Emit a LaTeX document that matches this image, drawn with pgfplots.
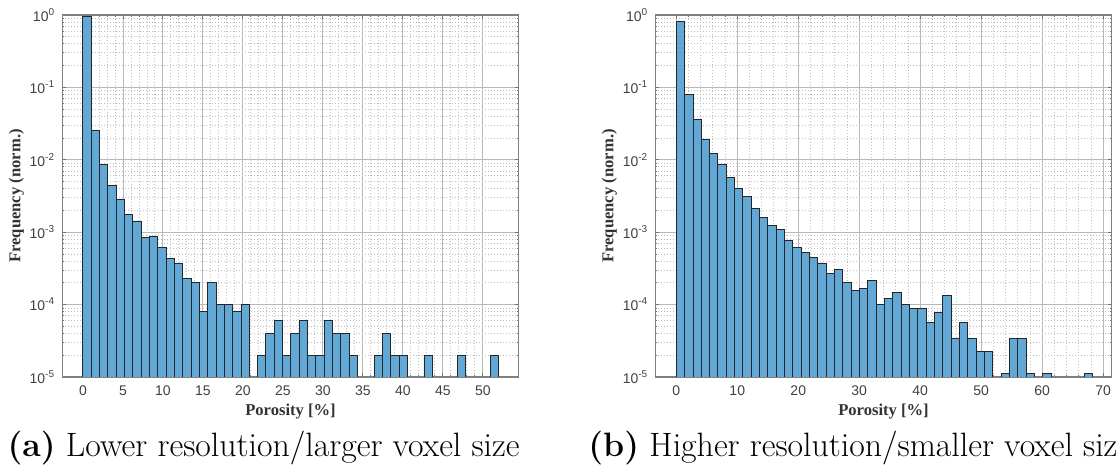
\documentclass[border=0pt]{standalone}
\usepackage{pgfplots}
\pgfplotsset{compat=1.18}
\usepackage{fontspec}
\newfontfamily\lsans{Liberation Sans}
\newfontfamily\lserif{Liberation Serif}

\definecolor{barblue}{RGB}{98,168,214}

\pgfplotsset{
  every axis/.append style={
    scale only axis,
    ymin=1e-5, ymax=1,
    ytick={1e-5,1e-4,1e-3,1e-2,1e-1,1},
    yticklabels={10\textsuperscript{-5},10\textsuperscript{-4},10\textsuperscript{-3},10\textsuperscript{-2},10\textsuperscript{-1},10\textsuperscript{0}},
    minor ytick={2e-5,3e-5,4e-5,5e-5,6e-5,7e-5,8e-5,9e-5,
                 2e-4,3e-4,4e-4,5e-4,6e-4,7e-4,8e-4,9e-4,
                 2e-3,3e-3,4e-3,5e-3,6e-3,7e-3,8e-3,9e-3,
                 2e-2,3e-2,4e-2,5e-2,6e-2,7e-2,8e-2,9e-2,
                 0.2,0.3,0.4,0.5,0.6,0.7,0.8,0.9},
    minor x tick num=4,
    grid=both,
    major grid style={black!28, line width=0.4pt},
    minor grid style={black!25, line width=0.4pt, dash pattern=on 0.4pt off 1.1pt},
    axis line style={black!50, line width=0.6pt},
    tick style={black!55, line width=0.4pt},
    major tick length=2pt,
    minor tick length=1pt,
    tick align=inside,
    ticklabel style={font=\lsans\fontsize{7}{8}\selectfont, text=black!75},
    /pgf/number format/assume math mode=true,
    xticklabel style={yshift=-1pt},
    xlabel style={font=\lserif\bfseries\fontsize{8.3}{9}\selectfont, text=black!80, yshift=3pt},
    ylabel style={font=\lserif\bfseries\fontsize{8.3}{9}\selectfont, text=black!80, yshift=-4pt},
    xlabel={Porosity [\%]},
    ylabel={Frequency (norm.)},
  },
}

\begin{document}
\begin{tikzpicture}
\path[use as bounding box] (0,0) rectangle (558.5pt,237.5pt);

% (a) lower resolution
\begin{axis}[
  ymode=log, log origin=infty,
  at={(31.1pt,49pt)}, anchor=south west,
  width=228.3pt, height=181pt,
  xmin=-2.59, xmax=54.5,
  xtick={0,5,...,50},
]
\addplot[ybar, bar width=1.04, bar shift=0pt, fill=barblue, draw=black!85, line width=0.45pt] coordinates {
(0.52,0.952) (1.56,0.0252) (2.60,0.0087) (3.64,0.0044) (4.68,0.0028)
(5.72,0.00175) (6.76,0.00143) (7.80,0.00085) (8.84,0.00086) (9.88,0.00062)
(10.92,0.00043) (11.96,0.00037) (13.00,0.00023) (14.04,0.0002) (15.08,8e-5)
(16.12,2e-4) (17.16,1e-4) (18.20,1e-4) (19.24,8e-5) (20.28,1e-4)
(22.36,2e-5) (23.40,4e-5) (24.44,6e-5) (25.48,2e-5) (26.52,4e-5)
(27.56,6e-5) (28.60,2e-5) (29.64,2e-5) (30.68,6e-5) (31.72,4e-5)
(32.76,4e-5) (33.80,2e-5) (36.92,2e-5) (37.96,4e-5) (39.00,2e-5)
(40.04,2e-5) (43.16,2e-5) (47.32,2e-5) (51.48,2e-5)
};
\end{axis}

% (b) higher resolution
\begin{axis}[
  ymode=log, log origin=infty,
  at={(327.65pt,49pt)}, anchor=south west,
  width=228.2pt, height=181pt,
  xmin=-3.44, xmax=71.4,
  xtick={0,10,...,70},
]
\addplot[ybar, bar width=1.366, bar shift=0pt, fill=barblue, draw=black!85, line width=0.45pt] coordinates {
(0.683,0.826) (2.049,0.0793) (3.415,0.0362) (4.781,0.0190) (6.147,0.0123)
(7.513,0.00867) (8.879,0.00573) (10.245,0.00404) (11.611,0.00313) (12.977,0.00211)
(14.343,0.00161) (15.709,0.00122) (17.075,0.00110) (18.441,0.00078) (19.807,0.000618)
(21.173,0.000521) (22.539,0.00045) (23.905,0.000372) (25.271,0.00027) (26.637,0.000307)
(28.003,0.000203) (29.369,0.000159) (30.735,0.000168) (32.101,0.000214) (33.467,0.000101)
(34.833,0.000123) (36.199,0.000146) (37.565,0.000101) (38.931,8.9e-5) (40.297,8.9e-5)
(41.663,5.6e-5) (43.029,7.8e-5) (44.395,0.000134) (45.761,3.38e-5) (47.127,5.6e-5)
(48.493,3.38e-5) (49.859,2.26e-5) (51.225,2.26e-5) (53.957,1.12e-5) (55.323,3.38e-5)
(56.689,3.38e-5) (58.055,1.12e-5) (60.787,1.12e-5) (67.617,1.12e-5)
};
\end{axis}

\node[anchor=base west, inner sep=0pt, font=\fontsize{16.9}{20}\selectfont] at (3.6pt,9pt)
  {\textbf{(a)} Lower resolution/larger voxel size};
\node[anchor=base west, inner sep=0pt, font=\fontsize{16.9}{20}\selectfont] at (294pt,9pt)
  {\textbf{(b)} Higher resolution/smaller voxel size};
\end{tikzpicture}
\end{document}
